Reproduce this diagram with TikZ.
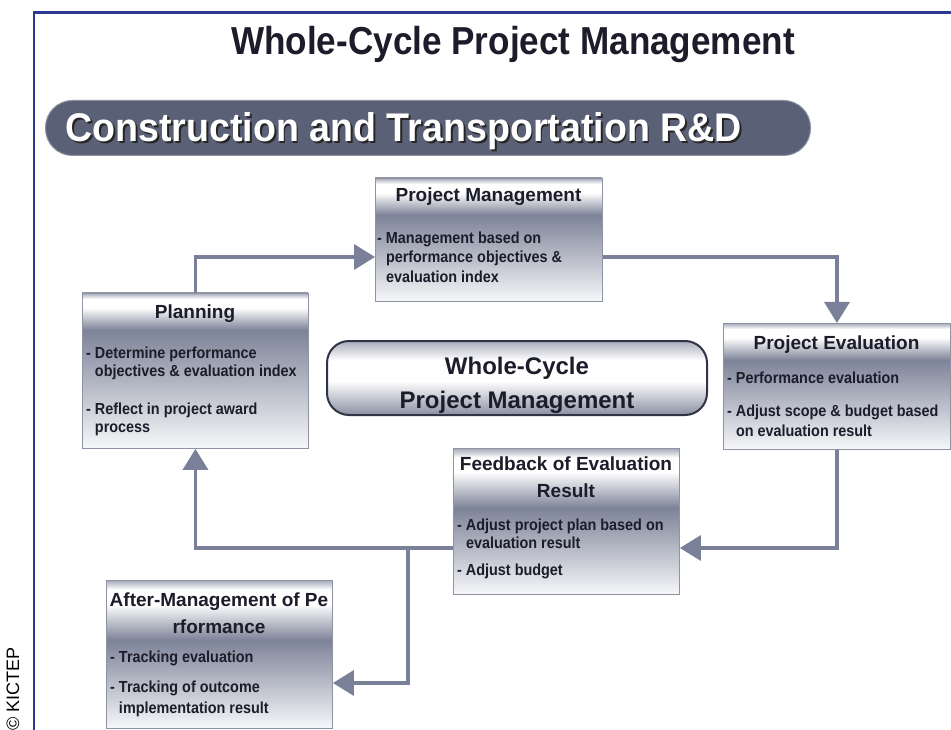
\documentclass[tikz,border=0pt]{standalone}
\usepackage{fontspec}
\setmainfont{Liberation Sans}
\newfontfamily\titlef[FakeStretch=0.9]{Liberation Sans}
\newfontfamily\bannerf[FakeStretch=0.94]{Liberation Sans}
\newfontfamily\bodyf[FakeStretch=0.9]{Liberation Sans}
\usetikzlibrary{arrows.meta,calc}
\definecolor{frameblue}{HTML}{2A3890}
\definecolor{bannercol}{HTML}{5A6075}
\definecolor{bannerline}{HTML}{8C91A3}
\definecolor{conn}{HTML}{7A8097}
\definecolor{boxgray}{HTML}{7D8398}
\definecolor{boxbot}{HTML}{F6F7F9}
\definecolor{hdrtop}{HTML}{A3A7B6}
\definecolor{boxline}{HTML}{8E92A4}
\definecolor{txt}{HTML}{1C1C2A}
\definecolor{ctrline}{HTML}{2F3447}
\definecolor{ctrtop}{HTML}{A9ADBB}
\definecolor{ctrbot}{HTML}{8A8FA2}
\pgfdeclareverticalshading{hdrsh}{100bp}{color(0bp)=(boxgray); color(25bp)=(boxgray); color(55bp)=(white); color(67bp)=(white); color(75bp)=(hdrtop); color(100bp)=(hdrtop)}
\pgfdeclareverticalshading{ctrsh}{100bp}{color(0bp)=(ctrbot); color(25bp)=(ctrbot); color(48bp)=(white); color(62bp)=(white); color(75bp)=(ctrtop); color(100bp)=(ctrtop)}
\tikzset{
  boxframe/.style={draw=boxline, line width=0.9pt, inner sep=0pt, anchor=north west},
  hdr/.style={font=\bfseries\fontsize{19}{27}\selectfont, text=txt, inner sep=0pt, align=center},
  bodytxt/.style={font=\bodyf\bfseries\fontsize{16}{#1}\selectfont, text=txt, inner sep=0pt, align=left, anchor=north west},
  conn/.style={draw=conn, line width=3.4pt, -{Triangle[length=21pt,width=25pt]}},
}
\newcommand\pbox[6]{%
  \shade[top color=boxgray, bottom color=boxbot] (#2,#6) rectangle (#4,#5);
  \shade[shading=hdrsh] (#2,#3) rectangle (#4,#6);
  \node[boxframe, minimum width={(#4-#2)*1pt}, minimum height={(#5-#3)*1pt}] (#1) at (#2,#3) {};
}
\newcommand\ind{\phantom{- }}
\begin{document}
\begin{tikzpicture}[x=1pt,y=-1pt]
\useasboundingbox (0,0) rectangle (951,730);
\fill[white] (0,0) rectangle (951,730);
% frame
\draw[frameblue, line width=2.6pt] (34,732) -- (34,12.5) -- (953,12.5);
\node[rotate=90, font=\fontsize{18}{18}\selectfont, text=black, inner sep=0pt] (kictep) at (13,689) {© KICTEP};
% title
\node[font=\titlef\bfseries\fontsize{39}{39}\selectfont, text=txt, anchor=base, inner sep=0pt] (title) at (513,55) {Whole-Cycle Project Management};
% banner
\node[fill=bannercol, draw=bannerline, line width=1pt, rounded corners=27pt, minimum width=765pt, minimum height=55pt, anchor=north west, inner sep=0pt] (banner) at (45,100) {};
\node[anchor=base west, font=\bannerf\bfseries\fontsize{40}{40}\selectfont, text=black!85, inner sep=0pt] (bannershadow) at (66.8,143.8) {Construction and Transportation R\&D};
\node[anchor=base west, font=\bannerf\bfseries\fontsize{40}{40}\selectfont, text=white, inner sep=0pt] (bannertxt) at (65,142) {Construction and Transportation R\&D};
% boxes
\pbox{pm}{375}{178}{602}{301}{215}
\pbox{pl}{82}{293}{308}{448}{330}
\pbox{pe}{723}{323}{950}{449}{360}
\pbox{fb}{453}{448}{679}{594}{508}
\pbox{am}{106}{580}{332}{728}{640}
% headers
\node[hdr, anchor=base] (pmh) at (488.5,202) {Project Management};
\node[hdr, anchor=base] (plh) at (195,318) {Planning};
\node[hdr, anchor=base] (peh) at (836.5,349) {Project Evaluation};
\node[hdr, anchor=north] (fbh) at (566,456.3) {Feedback of Evaluation\\Result};
\node[hdr, anchor=north] (amh) at (219,592.3) {After-Management of Pe\\rformance};
% bodies
\node[bodytxt=19.5] (pmb) at (377,231.3) {- Management based on\\\ind performance objectives \&\\\ind evaluation index};
\node[bodytxt=18] (plb) at (86,346.3) {- Determine performance\\\ind objectives \& evaluation index\\[20pt]- Reflect in project award\\\ind process};
\node[bodytxt=20] (peb) at (727,371.3) {- Performance evaluation\\[13pt]- Adjust scope \& budget based\\\ind on evaluation result};
\node[bodytxt=18.5] (fbb) at (457,518.3) {- Adjust project plan based on\\\ind evaluation result\\[8pt]- Adjust budget};
\node[bodytxt=21] (amb) at (110,650.3) {- Tracking evaluation\\[9pt]- Tracking of outcome\\\ind implementation result};
% centre
\node[shade, shading=ctrsh, draw=ctrline, line width=2pt, rounded corners=22pt, minimum width=380pt, minimum height=74pt, anchor=north west, inner sep=0pt] (ctr) at (326,340) {};
\node[font=\bfseries\fontsize{24}{34}\selectfont, text=txt, align=center, anchor=north, inner sep=0pt] (ctrt) at (517,356.6) {Whole-Cycle\\Project Management};
% connectors
\coordinate (j) at ($(fb.north west)+(-45,100)$);
\draw[conn] (pl.north) |- ($(pm.north west)+(0,79)$);
\draw[conn] ($(pm.north east)+(0,79)$) -| (pe.north);
\draw[conn] (pe.south) |- ($(fb.north east)+(0,100)$);
\draw[conn] ($(fb.north west)+(0,100)$) -| (pl.south);
\draw[conn] (j) |- ($(am.north east)+(0,103)$);
\end{tikzpicture}
\end{document}
